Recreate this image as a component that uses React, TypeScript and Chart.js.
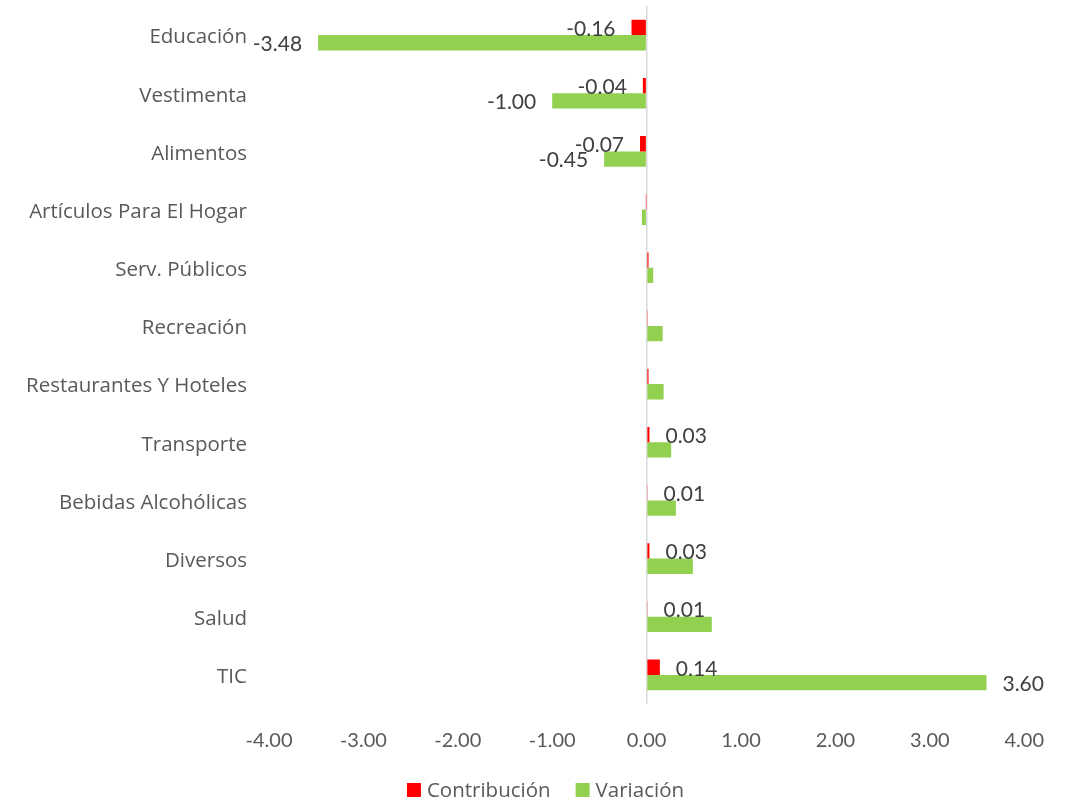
import React, { useEffect, useRef } from "react";
import { Chart, registerables } from "chart.js";

Chart.register(...registerables);

const categories = [
  "Educación",
  "Vestimenta",
  "Alimentos",
  "Artículos Para El Hogar",
  "Serv. Públicos",
  "Recreación",
  "Restaurantes Y Hoteles",
  "Transporte",
  "Bebidas Alcohólicas",
  "Diversos",
  "Salud",
  "TIC",
];

const contribucion = [-0.16, -0.04, -0.07, -0.003, 0.02, 0.005, 0.02, 0.03, 0.01, 0.03, 0.01, 0.14];
const variacion = [-3.48, -1.0, -0.45, -0.05, 0.07, 0.17, 0.18, 0.26, 0.31, 0.49, 0.69, 3.6];

const contribucionLabelShown = [true, true, true, false, false, false, false, true, true, true, true, true];
const variacionLabelShown = [true, true, true, false, false, false, false, false, false, false, false, true];

const xTicks = [-4, -3, -2, -1, 0, 1, 2, 3, 4];

const NUM_FONT = "Lato, 'Open Sans', sans-serif";
const TEXT_FONT = "'Open Sans', Lato, sans-serif";

const labelPlugin = {
  id: "barLabels",
  afterDatasetsDraw(chart: any) {
    const ctx = chart.ctx;
    const shown = [contribucionLabelShown, variacionLabelShown];
    ctx.save();
    ctx.font = `21px ${NUM_FONT}`;
    ctx.fillStyle = "#404040";
    ctx.textBaseline = "middle";
    chart.data.datasets.forEach((ds: any, di: number) => {
      const meta = chart.getDatasetMeta(di);
      meta.data.forEach((bar: any, i: number) => {
        if (!shown[di][i]) return;
        const v = ds.data[i];
        const txt = v.toFixed(2);
        if (v < 0) {
          ctx.textAlign = "right";
          ctx.fillText(txt, bar.x - 16, bar.y + 1.5);
        } else {
          ctx.textAlign = "left";
          ctx.fillText(txt, bar.x + 16, bar.y + 1.5);
        }
      });
    });
    ctx.restore();
  },
};

// category labels drawn from the y scale's own tick positions
const categoryLabels = {
  id: "categoryLabels",
  afterDraw(chart: any) {
    const ctx = chart.ctx;
    const y = chart.scales.y;
    ctx.save();
    ctx.font = `20.5px ${TEXT_FONT}`;
    ctx.fillStyle = "#595959";
    ctx.textAlign = "right";
    ctx.textBaseline = "middle";
    chart.data.labels.forEach((lab: string, i: number) => {
      ctx.fillText(lab, y.right - 22, y.getPixelForTick(i) + 2.5);
    });
    ctx.restore();
  },
};

const customLegend = {
  id: "customLegend",
  afterDraw(chart: any) {
    const ctx = chart.ctx;
    ctx.save();
    ctx.font = `20.5px ${TEXT_FONT}`;
    ctx.textBaseline = "middle";
    ctx.textAlign = "left";
    const box = 14;
    const gap = 6;
    const itemGap = 25;
    const items = chart.data.datasets.map((ds: any) => ({
      text: ds.label,
      color: ds.backgroundColor,
      w: ctx.measureText(ds.label).width,
    }));
    const total =
      items.reduce((s: number, it: any) => s + box + gap + it.w, 0) + itemGap * (items.length - 1);
    let x = 545.5 - total / 2;
    const cy = 790;
    items.forEach((it: any) => {
      ctx.fillStyle = it.color;
      ctx.fillRect(x, cy - box / 2, box, box);
      x += box + gap;
      ctx.fillStyle = "#595959";
      ctx.fillText(it.text, x, cy + 1.5);
      x += it.w + itemGap;
    });
    ctx.restore();
  },
};

export default function App() {
  const ref = useRef<HTMLCanvasElement | null>(null);

  useEffect(() => {
    document.body.style.margin = "0";
    if (!ref.current) return;
    const chart = new Chart(ref.current, {
      type: "bar",
      data: {
        labels: categories,
        datasets: [
          {
            label: "Contribución",
            data: contribucion,
            backgroundColor: "#ff0000",
            categoryPercentage: 0.526,
            barPercentage: 1,
          },
          {
            label: "Variación",
            data: variacion,
            backgroundColor: "#92d050",
            categoryPercentage: 0.526,
            barPercentage: 1,
          },
        ],
      },
      options: {
        indexAxis: "y",
        animation: false,
        responsive: false,
        maintainAspectRatio: false,
        layout: { padding: { top: 6, right: 42, left: 0, bottom: 38 } },
        scales: {
          x: {
            min: -4,
            max: 4,
            afterBuildTicks(scale: any) {
              scale.ticks = xTicks.map((v) => ({ value: v }));
            },
            afterFit(scale: any) {
              scale.height = 60;
            },
            border: { display: false },
            grid: {
              drawTicks: false,
              tickLength: 0,
              color: (c: any) => (c.tick && c.tick.value === 0 ? "#d9d9d9" : "rgba(0,0,0,0)"),
              lineWidth: 1.5,
            },
            ticks: {
              padding: 25,
              color: "#595959",
              font: { family: NUM_FONT, size: 20 },
              callback: (v: any) => Number(v).toFixed(2),
            },
          },
          y: {
            afterFit(scale: any) {
              scale.width = 269;
              scale.paddingTop = 0;
              scale.paddingBottom = 0;
            },
            border: { display: false },
            grid: { display: false, drawTicks: false },
            ticks: { display: false },
          },
        },
        plugins: {
          legend: { display: false },
          tooltip: { enabled: false },
        },
      },
      plugins: [labelPlugin, categoryLabels, customLegend],
    } as any);
    return () => chart.destroy();
  }, []);

  return (
    <div style={{ width: 1069, height: 802 }}>
      <canvas ref={ref} width={1069} height={802} style={{ display: "block" }} />
    </div>
  );
}
